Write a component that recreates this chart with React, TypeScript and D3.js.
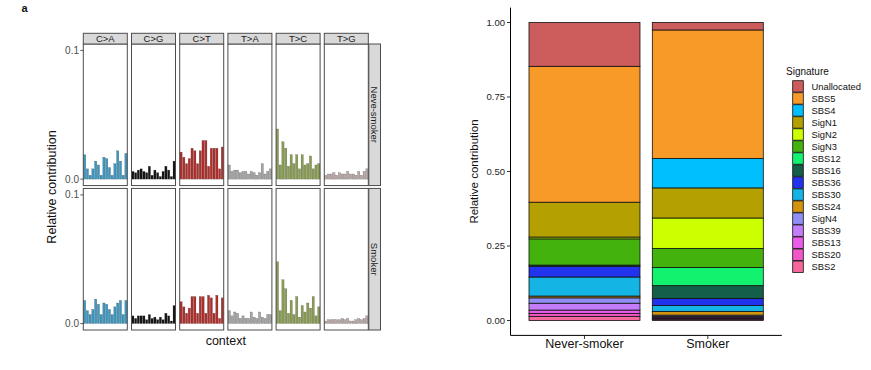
import React from "react";
import * as d3 from "d3";

// 96-profile panel data
const substitutions = ["C>A", "C>G", "C>T", "T>A", "T>C", "T>G"];
const samples = ["Neve-smoker", "Smoker"];
const flankBases = ["A", "C", "G", "T"];
const subColors = ["#3b98c2", "#151515", "#b22e2a", "#a7a5a5", "#8a9e52", "#bba9a9"];

// relative contribution per context (16 per substitution)
const neverSmoker96 = [
  [0.019, 0.008, 0.003, 0.008, 0.014, 0.011, 0.003, 0.017, 0.016, 0.009, 0.003, 0.012, 0.022, 0.014, 0.003, 0.02],
  [0.006, 0.005, 0.007, 0.008, 0.006, 0.005, 0.01, 0.003, 0.007, 0.005, 0.002, 0.006, 0.01, 0.007, 0.002, 0.014],
  [0.021, 0.017, 0.012, 0.016, 0.024, 0.022, 0.012, 0.022, 0.03, 0.03, 0.01, 0.024, 0.024, 0.024, 0.008, 0.025],
  [0.011, 0.006, 0.007, 0.007, 0.005, 0.006, 0.006, 0.004, 0.006, 0.005, 0.003, 0.005, 0.012, 0.004, 0.006, 0.008],
  [0.039, 0.011, 0.029, 0.024, 0.01, 0.019, 0.012, 0.019, 0.008, 0.019, 0.011, 0.012, 0.018, 0.008, 0.011, 0.012],
  [0.003, 0.004, 0.004, 0.005, 0.003, 0.005, 0.004, 0.004, 0.006, 0.004, 0.004, 0.003, 0.006, 0.003, 0.006, 0.008],
];
const smoker96 = [
  [0.018, 0.01, 0.007, 0.011, 0.019, 0.015, 0.007, 0.016, 0.015, 0.011, 0.007, 0.013, 0.016, 0.018, 0.007, 0.018],
  [0.006, 0.004, 0.006, 0.006, 0.006, 0.003, 0.007, 0.004, 0.005, 0.003, 0.005, 0.003, 0.008, 0.006, 0.002, 0.014],
  [0.017, 0.013, 0.008, 0.012, 0.021, 0.021, 0.008, 0.021, 0.021, 0.008, 0.022, 0.02, 0.008, 0.022, 0.004, 0.02],
  [0.01, 0.006, 0.009, 0.008, 0.004, 0.006, 0.004, 0.004, 0.009, 0.005, 0.004, 0.009, 0.005, 0.004, 0.007, 0.007],
  [0.048, 0.01, 0.034, 0.027, 0.008, 0.018, 0.007, 0.021, 0.005, 0.014, 0.009, 0.016, 0.012, 0.021, 0.006, 0.013],
  [0.002, 0.003, 0.003, 0.003, 0.003, 0.003, 0.004, 0.003, 0.004, 0.002, 0.002, 0.003, 0.004, 0.003, 0.004, 0.006],
];
const profiles = [neverSmoker96, smoker96];
const leftTicks = [0, 0.1];

// signature contribution panel data
const groups = ["Never-smoker", "Smoker"];
const signatures = ["Unallocated", "SBS5", "SBS4", "SigN1", "SigN2", "SigN3", "SBS12", "SBS16", "SBS36", "SBS30", "SBS24", "SigN4", "SBS39", "SBS13", "SBS20", "SBS2"];
const sigColors = ["#cd5c5c", "#f89a28", "#00bfff", "#b4a000", "#ccff00", "#44b20c", "#12f26f", "#135f49", "#2233ee", "#14b5e5", "#d2940f", "#8f8ff5", "#c47dfa", "#ec5cec", "#f356c8", "#f3679b"];
const neverSmokerContrib = [0.147, 0.456, 0, 0.117, 0.006, 0.088, 0, 0.004, 0.036, 0.064, 0.006, 0.018, 0.023, 0.011, 0.01, 0.014];
const smokerContrib = [0.025, 0.431, 0.099, 0.101, 0.102, 0.064, 0.061, 0.043, 0.024, 0.02, 0.012, 0.004, 0.004, 0.003, 0.003, 0.004];
const rightTicks = [0, 0.25, 0.5, 0.75, 1];

const font = "Liberation Sans, Arial, sans-serif";

const contextsFor = (sub: string) => {
  const out: string[] = [];
  flankBases.forEach((a) => flankBases.forEach((b) => out.push(`${a}[${sub}]${b}`)));
  return out;
};

const App = () => {
  // left: facet grid
  const colBand = d3.scaleBand<string>().domain(substitutions).range([83.3, 368.3]).paddingInner(0.087);
  const rowBand = d3.scaleBand<string>().domain(samples).range([44, 330]).paddingInner(0.02);
  const stripTop = 33.3;
  const stripRight = [368.8, 380.5];

  // right: stacked bars
  const xR = d3.scaleBand<string>().domain(groups).range([510.5, 781.8]).paddingInner(0.1).paddingOuter(0.15);
  const yR = d3.scaleLinear().domain([0, 1]).range([320.5, 22.5]);
  const stackRows = signatures.map((s, i) => ({ sig: s, "Never-smoker": neverSmokerContrib[i], Smoker: smokerContrib[i] }));
  // first signature on top -> stack in reverse order
  const stacked = groups.map((g) => {
    let acc = 0;
    const segs: { sig: string; color: string; y0: number; y1: number }[] = [];
    for (let i = signatures.length - 1; i >= 0; i--) {
      const v = (stackRows[i] as any)[g] as number;
      segs.push({ sig: signatures[i], color: sigColors[i], y0: acc, y1: acc + v });
      acc += v;
    }
    return { g, segs };
  });

  return (
    <svg width={871} height={370} style={{ position: "absolute", left: 0, top: 0, background: "#fff" }} fontFamily={font}>
      <text x={21.5} y={11.8} fontSize={11} fontWeight="bold" fill="#111">a</text>

      {/* facet panels */}
      {samples.map((sample, ri) => {
        const py0 = rowBand(sample)!;
        const ph = rowBand.bandwidth();
        const y = d3.scaleLinear().domain([-0.005, 0.105]).range([py0 + ph, py0]);
        return (
          <g key={sample}>
            {substitutions.map((sub, ci) => {
              const px0 = colBand(sub)!;
              const pw = colBand.bandwidth();
              const ctx = contextsFor(sub);
              const x = d3.scaleBand<string>().domain(ctx).range([px0, px0 + pw]).paddingInner(0.18).paddingOuter(0.08);
              return (
                <g key={sub}>
                  <rect x={px0} y={py0} width={pw} height={ph} fill="#fff" />
                  {ctx.map((c, k) => {
                    const v = profiles[ri][ci][k];
                    return (
                      <rect key={c} x={x(c)} y={y(v)} width={x.bandwidth()} height={y(0) - y(v)}
                        fill={subColors[ci]} stroke="#222" strokeOpacity={0.5} strokeWidth={0.35} />
                    );
                  })}
                  <rect x={px0} y={py0} width={pw} height={ph} fill="none" stroke="#4d4d4d" strokeWidth={1} />
                  {ri === 0 && (
                    <g>
                      <rect x={px0} y={stripTop} width={pw} height={py0 - stripTop} fill="#d9d9d9" stroke="#4d4d4d" strokeWidth={1} />
                      <text x={px0 + pw / 2} y={(stripTop + py0) / 2 + 3.4} textAnchor="middle" fontSize={9.5} fill="#1a1a1a">{sub}</text>
                    </g>
                  )}
                </g>
              );
            })}
            <rect x={stripRight[0]} y={py0} width={stripRight[1] - stripRight[0]} height={ph} fill="#d9d9d9" stroke="#4d4d4d" strokeWidth={1} />
            <text transform={`translate(${(stripRight[0] + stripRight[1]) / 2 - 3.4},${py0 + ph / 2}) rotate(90)`} textAnchor="middle" fontSize={9.5} fill="#1a1a1a">{sample}</text>
            {leftTicks.map((t) => (
              <g key={t}>
                <line x1={80.3} x2={83.3} y1={y(t)} y2={y(t)} stroke="#333" strokeWidth={0.8} />
                <text x={79} y={y(t) + 3.5} textAnchor="end" fontSize={10} fill="#4d4d4d">{t.toFixed(1)}</text>
              </g>
            ))}
          </g>
        );
      })}
      <text transform="translate(56,187) rotate(-90)" textAnchor="middle" fontSize={12.5} fill="#111">Relative contribution</text>
      <text x={225.8} y={344.5} textAnchor="middle" fontSize={12.5} fill="#111">context</text>

      {/* stacked signature bars */}
      {stacked.map(({ g, segs }) => (
        <g key={g}>
          {segs.filter((s) => s.y1 > s.y0).map((s) => (
            <rect key={s.sig} x={xR(g)} y={yR(s.y1)} width={xR.bandwidth()} height={yR(s.y0) - yR(s.y1)}
              fill={s.color} stroke="#111" strokeWidth={0.8} />
          ))}
        </g>
      ))}
      <line x1={510.5} x2={510.5} y1={7.6} y2={335.4} stroke="#000" strokeWidth={1} />
      <line x1={510.5} x2={781.8} y1={335.4} y2={335.4} stroke="#000" strokeWidth={1} />
      {rightTicks.map((t) => (
        <g key={t}>
          <line x1={507} x2={510.5} y1={yR(t)} y2={yR(t)} stroke="#000" strokeWidth={0.8} />
          <text x={505} y={yR(t) + 3.3} textAnchor="end" fontSize={9.5} fill="#222">{t.toFixed(2)}</text>
        </g>
      ))}
      {groups.map((g) => (
        <g key={g}>
          <line x1={xR(g)! + xR.bandwidth() / 2} x2={xR(g)! + xR.bandwidth() / 2} y1={335.4} y2={338.9} stroke="#000" strokeWidth={0.8} />
          <text x={xR(g)! + xR.bandwidth() / 2} y={348.3} textAnchor="middle" fontSize={12.5} fill="#111">{g}</text>
        </g>
      ))}
      <text transform="translate(478,171.5) rotate(-90)" textAnchor="middle" fontSize={11.5} fill="#111">Relative contribution</text>

      {/* legend */}
      <text x={786} y={74.5} fontSize={10} fill="#111">Signature</text>
      {signatures.map((s, i) => {
        const ky = 80.7 + i * 12.02;
        return (
          <g key={s}>
            <rect x={792.7} y={ky} width={10.6} height={11.4} fill={sigColors[i]} stroke="#111" strokeWidth={0.8} />
            <text x={811.5} y={ky + 9} fontSize={9.4} fill="#111">{s}</text>
          </g>
        );
      })}
    </svg>
  );
};

export default App;
